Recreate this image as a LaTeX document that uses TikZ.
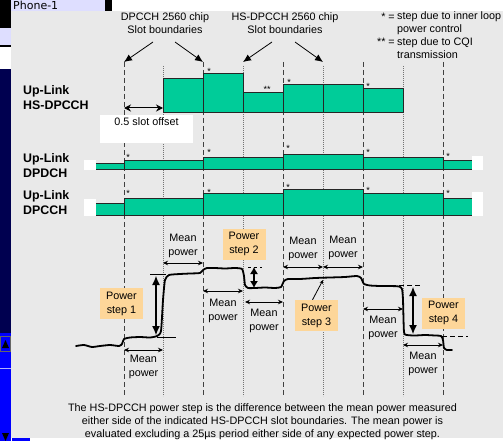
\documentclass[tikz,border=0pt]{standalone}
\usepackage{fontspec}
\setmainfont{Liberation Sans}
\newfontfamily\screenfont{DejaVu Sans}
\usetikzlibrary{arrows.meta}
\definecolor{panelgray}{RGB}{233,233,233}
\definecolor{chanteal}{RGB}{0,204,153}
\definecolor{stepbg}{RGB}{253,214,153}
\definecolor{tablav}{RGB}{222,222,255}
\definecolor{deepnavy}{RGB}{0,0,80}
\definecolor{scrollblue}{RGB}{0,0,255}
\tikzset{
  every node/.style={font=\fontsize{10.8}{13}\selectfont},
  slotdash/.style={line width=0.9pt, black!75, dash pattern=on 5pt off 3pt},
  slotdot/.style={line width=0.8pt, black!55, dash pattern=on 0.8pt off 1.2pt},
  chanbar/.style={draw=black!85, fill=chanteal, line width=0.9pt},
  chanedge/.style={black!85, line width=0.9pt},
  hdrarr/.style={-{Latex[length=8pt,width=7pt]}, line width=0.8pt},
  meanarr/.style={{Stealth[length=5pt,width=4.5pt]}-{Stealth[length=5pt,width=4.5pt]}, line width=0.8pt},
  steparr/.style={{Latex[length=9pt,width=8pt]}-{Latex[length=9pt,width=8pt]}, line width=1.1pt},
  stepbox/.style={fill=stepbg, minimum width=43pt, minimum height=31pt, inner sep=0, align=center, font=\fontsize{10.8}{14}\selectfont},
  meanlbl/.style={align=center, inner sep=0, font=\fontsize{10.8}{13.5}\selectfont},
  chanlbl/.style={anchor=west, align=left, inner sep=0, font=\bfseries\fontsize{12.4}{15}\selectfont},
  starlbl/.style={inner sep=0, font=\fontsize{9}{9}\selectfont}
}
\begin{document}
\begin{tikzpicture}[x=1pt, y=-1pt]
	\useasboundingbox (0,0) rectangle (503,441);
	%screen around the panel
	\fill[white] (0,0) rectangle (503,441);
	\fill[black] (0,0) rectangle (11,28);
	\fill[tablav] (0,28) rectangle (11,45);
	\fill[black] (0,45) rectangle (11,47);
	\fill[deepnavy] (0,69) rectangle (11,333);
	\fill[scrollblue] (0,333) rectangle (11,441);
	\draw[black!60, line width=0.6pt] (0.5,336) rectangle (10.5,351);
	\fill[black] (2,348) -- (9,348) -- (5.5,340) -- cycle;
	\draw[white!70!blue, line width=0.8pt] (0,368) -- (11,368);
	\fill[black] (2,433) -- (9,433) -- (5.5,441) -- cycle;
	\fill[tablav] (11,0) rectangle (105,11);
	\fill[black] (105,0) rectangle (112,11);
	\node[anchor=west, inner sep=0, font=\screenfont\fontsize{11}{11}\selectfont] (tab) at (13,5) {Phone-1};
	\fill[panelgray] (11,11) rectangle (503,438);
	\fill[scrollblue] (12,438) rectangle (30,441);
	
	%slot boundaries
	\foreach \x [count=\i] in {124, 203, 283, 363, 443}{
		\coordinate (dtop\i) at (\x,62);
		\draw[slotdash] (dtop\i) -- (\x,396);
	}
	\foreach \x [count=\i] in {163, 243, 323, 403}{
		\coordinate (htop\i) at (\x,62);
		\draw[slotdot] (\x,66) -- (\x,396);
	}
	
	%headers and legend
	\node[align=center, inner sep=0] (dpcchhdr) at (165,23.5) {DPCCH 2560 chip\\Slot boundaries};
	\node[align=center, inner sep=0] (hshdr) at (285,23.5) {HS-DPCCH 2560 chip\\Slot boundaries};
	\coordinate (dpa) at (153,42);
	\coordinate (dpb) at (175,42);
	\coordinate (hsa) at (272,42);
	\coordinate (hsb) at (295,42);
	\draw[hdrarr] (dpa) -- (dtop1);
	\draw[hdrarr] (dpb) -- (dtop2);
	\draw[hdrarr] (hsa) -- (htop2);
	\draw[hdrarr] (hsb) -- (htop3);
	\node[anchor=east, inner sep=0] (legs1) at (395,17) {* =};
	\node[anchor=west, align=left, inner sep=0] (legt1) at (397,23.5) {step due to inner loop\\power control};
	\node[anchor=east, inner sep=0] (legs2) at (395,42) {** =};
	\node[anchor=west, align=left, inner sep=0] (legt2) at (397,48.5) {step due to CQI\\transmission};
	
	%channel names
	\node[chanlbl] (hslbl) at (23,97.5) {Up-Link\\HS-DPCCH};
	\node[chanlbl] (dpdchlbl) at (23,165.5) {Up-Link\\DPDCH};
	\node[chanlbl] (dpcchlbl) at (23,203) {Up-Link\\DPCCH};
	
	%HS-DPCCH slots
	\foreach \xa/\xb/\t in {163/203/78, 203/243/73, 243/283/92, 283/323/84, 323/363/84, 363/403/88}{
		\draw[chanbar] (\xa,112) rectangle (\xb,\t);
	}
	\node[starlbl] (hs1) at (209,71) {*};
	\node[starlbl] (hs2) at (267,89) {**};
	\node[starlbl] (hs3) at (289,82) {*};
	\node[starlbl] (hs4) at (368,86) {*};
	\coordinate (offa) at (124,108);
	\coordinate (offb) at (163,108);
	\draw[{Stealth[length=7pt,width=7pt]}-{Stealth[length=7pt,width=7pt]}, line width=1pt] (offa) -- (offb);
	\node[fill=white, minimum width=93pt, minimum height=28pt, inner sep=0] (offbox) at (146.5,129) {};
	\node[inner sep=0] (offtxt) at (146.5,122) {0.5 slot offset};
	
	%DPDCH
	\fill[white] (84,160) rectangle (96,170);
	\fill[white] (472,156) rectangle (483,170);
	\fill[chanteal] (96,169) rectangle (124,163);
	\draw[chanedge] (96,163) -- (124,163) (96,169) -- (124,169);
	\fill[chanteal] (443,169) rectangle (472,160);
	\draw[chanedge] (443,160) -- (472,160) (443,169) -- (472,169);
	\foreach \xa/\xb/\t in {124/203/160, 203/283/157, 283/363/154, 363/443/157}{
		\draw[chanbar] (\xa,169) rectangle (\xb,\t);
	}
	\foreach \x/\y [count=\i] in {128/157, 209/152, 288/148, 368/152, 448/156}{
		\node[starlbl] (dd\i) at (\x,\y) {*};
	}
	
	%DPCCH
	\fill[white] (84,199) rectangle (96,216);
	\fill[white] (472,192) rectangle (483,216);
	\fill[chanteal] (96,215) rectangle (124,203);
	\draw[chanedge] (96,203) -- (124,203) (96,215) -- (124,215);
	\fill[chanteal] (443,215) rectangle (472,198);
	\draw[chanedge] (443,198) -- (472,198) (443,215) -- (472,215);
	\foreach \xa/\xb/\t in {124/203/198, 203/283/193, 283/363/189, 363/443/193}{
		\draw[chanbar] (\xa,215) rectangle (\xb,\t);
	}
	\foreach \x/\y [count=\i] in {128/193, 209/192, 288/187, 368/190, 448/193}{
		\node[starlbl] (dc\i) at (\x,\y) {*};
	}
	
	%measured power
	\draw[line width=1.8pt, line join=round, line cap=round] plot[smooth, tension=0.35] coordinates {
		(76,346) (84,345) (92,347) (100,346) (110,345) (119,346) (122,344) (124,339) (130,337.5) (140,337) (150,337.5) (157,336) (161,331) (163,300) (165,280) (169,275) (180,274) (190,273.5) (200,273) (203,270) (207,268) (215,268) (225,268.5) (235,268) (242,269) (244,276) (245,285) (248,288) (255,288) (265,287.5) (275,288) (281,287) (284,281) (288,279) (300,279) (315,278) (330,277.5) (345,277) (357,276) (361,278) (364,284) (370,285.5) (380,286) (390,286) (399,286.5) (402,289) (403,300) (404,332) (407,335) (415,335.5) (425,335) (435,335.5) (441,336) (443,340) (444,348) (447,350) (452,350)};
	
	%mean power windows
	\foreach \n/\xa/\xb/\ya/\ly in {1/124/163/350/367, 2/163/203/263/246, 3/203/243/291/311, 4/245/283/302/321, 5/283/323/267/249, 6/323/363/267/248, 7/363/403/309/328, 8/403/443/345/364}{
		\coordinate (mpl\n) at (\xa,\ya);
		\coordinate (mpr\n) at (\xb,\ya);
		\draw[meanarr] (mpl\n) -- (mpr\n);
		\node[meanlbl] (mp\n) at ({(\xa+\xb)/2},\ly) {Mean\\power};
	}
	
	%power steps
	\node[stepbox] (ps1) at (121.5,303.5) {Power\\step 1};
	\node[stepbox] (ps2) at (244,244) {Power\\step 2};
	\node[stepbox] (ps3) at (316.5,315.5) {Power\\step 3};
	\node[stepbox] (ps4) at (443.5,313) {Power\\step 4};
	\draw[line width=0.6pt] (150,274) -- (166,274) (157,337) -- (176,337);
	\coordinate (ps1t) at (156,276);
	\coordinate (ps1b) at (156,335);
	\draw[steparr] (ps1t) -- (ps1b);
	\draw[line width=0.6pt, dashed] (248,267) -- (262,267);
	\coordinate (ps2t) at (254,267);
	\coordinate (ps2b) at (254,288);
	\draw[{Latex[length=7pt,width=8pt]}-{Latex[length=7pt,width=8pt]}, line width=1.1pt] (ps2t) -- (ps2b);
	\coordinate (ps3p) at (323,280);
	\draw[-{Stealth[length=4pt,width=3.5pt]}, line width=0.8pt] (ps3.north) ++(-4,0) -- (ps3p);
	\draw[line width=0.8pt, dash pattern=on 5pt off 3pt] (383,285) -- (422,285) (442,336) -- (468,336);
	\coordinate (ps4t) at (413,287);
	\coordinate (ps4b) at (413,334);
	\draw[steparr] (ps4t) -- (ps4b);
	
	%caption
	\node[align=center, inner sep=0] (caption) at (262.5,422) {The HS-DPCCH power step is the difference between the mean power measured\\either side of the indicated HS-DPCCH slot boundaries. The mean power is\\evaluated excluding a 25\textmu s period either side of any expected power step.};
\end{tikzpicture}
\end{document}
